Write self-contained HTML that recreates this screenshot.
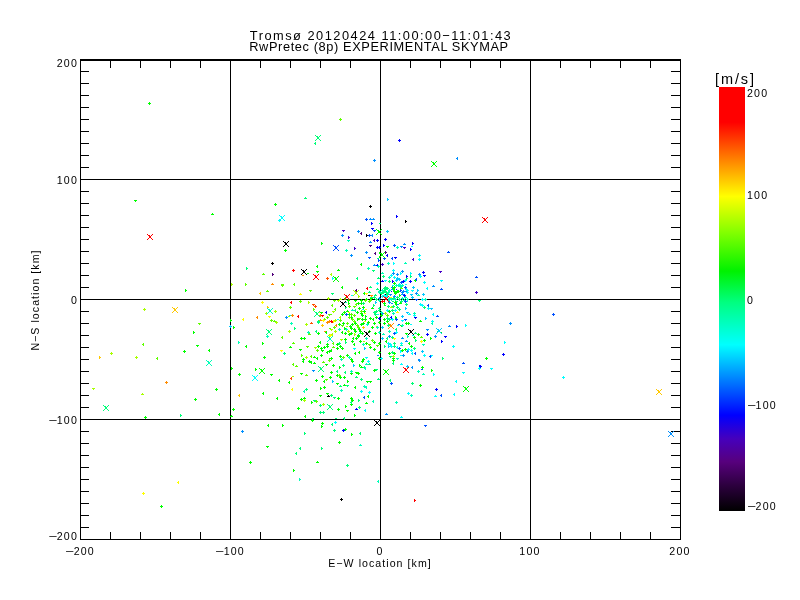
<!DOCTYPE html>
<html lang="en"><head><meta charset="utf-8"><title>Tromsø skymap</title>
<style>
html,body{margin:0;padding:0;background:#fff;}
body{width:800px;height:600px;position:relative;overflow:hidden;font-family:"Liberation Sans",sans-serif;color:#000;}
svg{position:absolute;left:0;top:0;}
.t{position:absolute;white-space:nowrap;line-height:1;filter:grayscale(1);font-size:10.6px;letter-spacing:1.2px;}
.m{display:inline-block;letter-spacing:0;width:8.6px;transform:scaleX(1.42);transform-origin:0 50%;}
.c{transform:translateX(-50%);}
.r{transform:translateX(-100%);}
.ttl{font-size:12.8px;letter-spacing:1.5px;}
.ax{letter-spacing:1.05px;}
#cb{position:absolute;left:719px;top:87px;width:26px;height:424px;
background:linear-gradient(to bottom,#ff0000 0%,#ff0000 8.3%,#ff8000 17%,#ffff00 25.8%,#80ff00 34.5%,#00f200 43.4%,#00ff80 50.8%,#00ffff 60.8%,#0080ff 69%,#0000ff 77.4%,#4600bc 83%,#57007d 88.4%,#2c003e 94%,#000000 100%);}
</style></head><body>
<svg width="800" height="600" viewBox="0 0 800 600" shape-rendering="crispEdges">
<path fill="#000" d="M80 59h601v2h-601zM80 539h601v1h-601zM80 59h1v481h-1zM680 59h1v481h-1zM230 59h1v481h-1zM380 59h1v481h-1zM530 59h1v481h-1zM80 179h601v1h-601zM80 299h601v1h-601zM80 419h601v1h-601zM110 59h1v9h-1zM110 532h1v8h-1zM140 59h1v9h-1zM140 532h1v8h-1zM170 59h1v9h-1zM170 532h1v8h-1zM200 59h1v9h-1zM200 532h1v8h-1zM260 59h1v9h-1zM260 532h1v8h-1zM290 59h1v9h-1zM290 532h1v8h-1zM320 59h1v9h-1zM320 532h1v8h-1zM350 59h1v9h-1zM350 532h1v8h-1zM410 59h1v9h-1zM410 532h1v8h-1zM440 59h1v9h-1zM440 532h1v8h-1zM470 59h1v9h-1zM470 532h1v8h-1zM500 59h1v9h-1zM500 532h1v8h-1zM560 59h1v9h-1zM560 532h1v8h-1zM590 59h1v9h-1zM590 532h1v8h-1zM620 59h1v9h-1zM620 532h1v8h-1zM650 59h1v9h-1zM650 532h1v8h-1zM80 71h9v1h-9zM671 71h10v1h-10zM80 83h9v1h-9zM671 83h10v1h-10zM80 95h9v1h-9zM671 95h10v1h-10zM80 107h9v1h-9zM671 107h10v1h-10zM80 119h9v1h-9zM671 119h10v1h-10zM80 131h9v1h-9zM671 131h10v1h-10zM80 143h9v1h-9zM671 143h10v1h-10zM80 155h9v1h-9zM671 155h10v1h-10zM80 167h9v1h-9zM671 167h10v1h-10zM80 191h9v1h-9zM671 191h10v1h-10zM80 203h9v1h-9zM671 203h10v1h-10zM80 215h9v1h-9zM671 215h10v1h-10zM80 227h9v1h-9zM671 227h10v1h-10zM80 239h9v1h-9zM671 239h10v1h-10zM80 251h9v1h-9zM671 251h10v1h-10zM80 263h9v1h-9zM671 263h10v1h-10zM80 275h9v1h-9zM671 275h10v1h-10zM80 287h9v1h-9zM671 287h10v1h-10zM80 311h9v1h-9zM671 311h10v1h-10zM80 323h9v1h-9zM671 323h10v1h-10zM80 335h9v1h-9zM671 335h10v1h-10zM80 347h9v1h-9zM671 347h10v1h-10zM80 359h9v1h-9zM671 359h10v1h-10zM80 371h9v1h-9zM671 371h10v1h-10zM80 383h9v1h-9zM671 383h10v1h-10zM80 395h9v1h-9zM671 395h10v1h-10zM80 407h9v1h-9zM671 407h10v1h-10zM80 431h9v1h-9zM671 431h10v1h-10zM80 443h9v1h-9zM671 443h10v1h-10zM80 455h9v1h-9zM671 455h10v1h-10zM80 467h9v1h-9zM671 467h10v1h-10zM80 479h9v1h-9zM671 479h10v1h-10zM80 491h9v1h-9zM671 491h10v1h-10zM80 503h9v1h-9zM671 503h10v1h-10zM80 515h9v1h-9zM671 515h10v1h-10zM80 527h9v1h-9zM671 527h10v1h-10z"/>
<path fill="#00ff00" d="M148 103h3v1h-3zM149 102h1v3h-1zM134 200h3v1h-3zM135 201h1v1h-1zM274 204h3v1h-3zM275 203h1v3h-1zM212 213h1v1h-1zM211 214h3v1h-3zM185 289h1v3h-1zM186 290h1v1h-1zM193 331h1v3h-1zM194 332h1v1h-1zM196 345h3v1h-3zM197 346h1v1h-1zM183 351h3v1h-3zM184 350h1v3h-1zM208 350h1v1h-1zM209 349h1v3h-1zM230 319h1v3h-1zM231 320h1v1h-1zM233 326h1v3h-1zM234 327h1v1h-1zM262 342h1v3h-1zM263 343h1v1h-1zM245 346h1v1h-1zM246 345h1v3h-1zM263 357h3v1h-3zM264 356h1v3h-1zM485 358h3v1h-3zM486 357h1v3h-1zM215 389h3v1h-3zM216 388h1v3h-1zM194 399h3v1h-3zM195 398h1v3h-1zM144 417h3v1h-3zM145 416h1v3h-1zM218 414h1v1h-1zM219 413h1v3h-1zM231 367h1v3h-1zM232 368h1v1h-1zM238 374h3v1h-3zM239 373h1v3h-1zM255 368h1v3h-1zM256 369h1v1h-1zM270 374h3v1h-3zM271 375h1v1h-1zM278 380h1v1h-1zM279 379h1v3h-1zM262 393h1v1h-1zM263 392h1v3h-1zM276 398h1v1h-1zM277 397h1v3h-1zM232 409h3v1h-3zM233 408h1v3h-1zM231 415h1v1h-1zM230 416h3v1h-3zM267 425h1v1h-1zM268 424h1v3h-1zM266 446h3v1h-3zM267 447h1v1h-1zM249 462h3v1h-3zM250 461h1v3h-1zM160 506h3v1h-3zM161 505h1v3h-1zM282 424h1v3h-1zM283 425h1v1h-1zM311 420h3v1h-3zM312 419h1v3h-1zM321 423h3v1h-3zM322 422h1v3h-1zM321 425h1v3h-1zM322 426h1v1h-1zM344 429h3v1h-3zM345 428h1v3h-1zM351 433h1v3h-1zM352 434h1v1h-1zM338 442h3v1h-3zM339 441h1v3h-1zM317 461h1v1h-1zM316 462h3v1h-3zM293 469h1v3h-1zM294 470h1v1h-1zM284 250h3v1h-3zM285 249h1v3h-1zM321 242h1v3h-1zM322 243h1v1h-1zM307 273h2v1h-2zM316 266h1v1h-1zM317 265h1v3h-1zM316 271h3v1h-3zM317 272h1v1h-1zM338 269h1v1h-1zM337 270h3v1h-3zM360 264h1v1h-1zM361 263h1v3h-1zM379 253h2v1h-2zM379 256h2v1h-2zM386 246h3v1h-3zM387 247h1v1h-1zM414 280h3v1h-3zM415 279h1v3h-1zM393 283h3v1h-3zM394 282h1v3h-1zM320 312h3v1h-3zM321 313h1v1h-1zM341 287h1v1h-1zM342 286h1v3h-1zM363 293h1v1h-1zM364 292h1v3h-1zM344 298h1v1h-1zM345 297h1v3h-1zM347 300h3v1h-3zM348 299h1v3h-1zM348 302h1v3h-1zM349 303h1v1h-1zM354 300h3v1h-3zM355 301h1v1h-1zM357 303h3v1h-3zM358 302h1v3h-1zM360 300h3v1h-3zM361 299h1v3h-1zM360 303h3v1h-3zM361 302h1v3h-1zM365 299h3v1h-3zM366 298h1v3h-1zM370 298h3v1h-3zM371 297h1v3h-1zM372 307h1v1h-1zM371 308h3v1h-3zM358 308h3v1h-3zM359 307h1v3h-1zM362 307h3v1h-3zM363 306h1v3h-1zM363 311h3v1h-3zM364 310h1v3h-1zM356 312h3v1h-3zM357 311h1v3h-1zM347 310h1v1h-1zM346 311h3v1h-3zM343 312h3v1h-3zM344 311h1v3h-1zM341 314h3v1h-3zM342 313h1v3h-1zM348 314h3v1h-3zM349 313h1v3h-1zM350 317h3v1h-3zM351 316h1v3h-1zM360 313h3v1h-3zM361 312h1v3h-1zM361 315h3v1h-3zM362 314h1v3h-1zM365 315h1v3h-1zM366 316h1v1h-1zM361 319h3v1h-3zM362 318h1v3h-1zM364 319h3v1h-3zM365 318h1v3h-1zM357 318h1v3h-1zM358 319h1v1h-1zM369 318h3v1h-3zM370 317h1v3h-1zM372 319h1v1h-1zM373 318h1v3h-1zM375 317h3v1h-3zM376 316h1v3h-1zM388 311h3v1h-3zM389 310h1v3h-1zM420 320h1v1h-1zM419 321h3v1h-3zM380 315h3v1h-3zM381 314h1v3h-1zM383 319h3v1h-3zM384 318h1v3h-1zM395 316h1v3h-1zM396 317h1v1h-1zM386 321h3v1h-3zM387 320h1v3h-1zM317 333h3v1h-3zM318 332h1v3h-1zM325 332h1v1h-1zM326 331h1v3h-1zM300 338h3v1h-3zM301 337h1v3h-1zM303 338h3v1h-3zM304 337h1v3h-1zM319 342h1v1h-1zM320 341h1v3h-1zM326 344h3v1h-3zM327 343h1v3h-1zM326 346h3v1h-3zM327 345h1v3h-1zM290 346h1v1h-1zM289 347h3v1h-3zM317 346h3v1h-3zM318 345h1v3h-1zM320 348h3v1h-3zM321 347h1v3h-1zM323 347h3v1h-3zM324 346h1v3h-1zM321 350h3v1h-3zM322 351h1v1h-1zM299 349h3v1h-3zM300 350h1v1h-1zM314 356h1v1h-1zM313 357h3v1h-3zM316 358h1v1h-1zM317 357h1v3h-1zM320 355h3v1h-3zM321 354h1v3h-1zM326 352h1v1h-1zM327 351h1v3h-1zM328 351h3v1h-3zM329 350h1v3h-1zM302 359h3v1h-3zM303 358h1v3h-1zM329 358h2v1h-2zM338 324h3v1h-3zM339 323h1v3h-1zM342 323h3v1h-3zM343 322h1v3h-1zM349 326h3v1h-3zM350 325h1v3h-1zM351 324h3v1h-3zM352 323h1v3h-1zM354 323h3v1h-3zM355 322h1v3h-1zM360 324h3v1h-3zM361 323h1v3h-1zM362 323h3v1h-3zM363 322h1v3h-1zM367 322h3v1h-3zM368 321h1v3h-1zM371 327h3v1h-3zM372 326h1v3h-1zM373 323h3v1h-3zM374 322h1v3h-1zM378 322h3v1h-3zM379 321h1v3h-1zM344 327h1v3h-1zM345 328h1v1h-1zM350 328h3v1h-3zM351 327h1v3h-1zM353 329h3v1h-3zM354 328h1v3h-1zM354 331h3v1h-3zM355 330h1v3h-1zM358 329h3v1h-3zM359 328h1v3h-1zM359 331h3v1h-3zM360 330h1v3h-1zM341 332h1v1h-1zM342 331h1v3h-1zM344 333h3v1h-3zM345 332h1v3h-1zM348 334h3v1h-3zM349 333h1v3h-1zM350 333h3v1h-3zM351 332h1v3h-1zM357 335h3v1h-3zM358 334h1v3h-1zM361 333h3v1h-3zM362 332h1v3h-1zM368 331h3v1h-3zM369 330h1v3h-1zM374 333h3v1h-3zM375 332h1v3h-1zM344 339h3v1h-3zM345 338h1v3h-1zM352 338h1v1h-1zM353 337h1v3h-1zM351 341h3v1h-3zM352 340h1v3h-1zM355 338h3v1h-3zM356 337h1v3h-1zM357 336h3v1h-3zM358 335h1v3h-1zM359 341h3v1h-3zM360 340h1v3h-1zM373 342h3v1h-3zM374 341h1v3h-1zM378 343h3v1h-3zM379 342h1v3h-1zM336 344h3v1h-3zM337 343h1v3h-1zM339 346h3v1h-3zM340 345h1v3h-1zM336 348h3v1h-3zM337 347h1v3h-1zM341 348h3v1h-3zM342 347h1v3h-1zM330 350h1v1h-1zM331 349h1v3h-1zM353 344h1v1h-1zM354 343h1v3h-1zM365 343h3v1h-3zM366 342h1v3h-1zM369 347h3v1h-3zM370 346h1v3h-1zM373 349h3v1h-3zM374 348h1v3h-1zM354 353h1v1h-1zM355 352h1v3h-1zM358 352h1v1h-1zM359 351h1v3h-1zM378 352h3v1h-3zM379 351h1v3h-1zM339 356h3v1h-3zM340 355h1v3h-1zM346 355h3v1h-3zM347 354h1v3h-1zM350 359h3v1h-3zM351 358h1v3h-1zM330 358h3v1h-3zM331 357h1v3h-1zM362 359h3v1h-3zM363 358h1v3h-1zM378 358h3v1h-3zM379 357h1v3h-1zM383 323h3v1h-3zM384 322h1v3h-1zM400 325h3v1h-3zM401 326h1v1h-1zM405 323h3v1h-3zM406 322h1v3h-1zM407 323h3v1h-3zM408 322h1v3h-1zM405 333h3v1h-3zM406 334h1v1h-1zM417 334h3v1h-3zM418 333h1v3h-1zM413 337h3v1h-3zM414 336h1v3h-1zM423 340h3v1h-3zM424 339h1v3h-1zM430 337h1v3h-1zM431 338h1v1h-1zM408 343h1v1h-1zM409 342h1v3h-1zM385 341h1v1h-1zM386 340h1v3h-1zM410 346h3v1h-3zM411 345h1v3h-1zM401 350h3v1h-3zM402 349h1v3h-1zM404 349h3v1h-3zM405 348h1v3h-1zM388 353h3v1h-3zM389 352h1v3h-1zM393 353h3v1h-3zM394 352h1v3h-1zM392 358h3v1h-3zM393 357h1v3h-1zM440 332h2v1h-2zM302 361h1v1h-1zM303 360h1v3h-1zM308 361h3v1h-3zM309 360h1v3h-1zM310 362h1v1h-1zM311 361h1v3h-1zM314 362h1v1h-1zM313 363h3v1h-3zM325 364h3v1h-3zM326 365h1v1h-1zM332 365h3v1h-3zM333 364h1v3h-1zM339 366h1v3h-1zM340 367h1v1h-1zM351 361h3v1h-3zM352 360h1v3h-1zM359 364h1v3h-1zM360 365h1v1h-1zM361 366h1v1h-1zM360 367h3v1h-3zM361 361h3v1h-3zM362 360h1v3h-1zM373 370h3v1h-3zM374 369h1v3h-1zM300 373h3v1h-3zM301 374h1v1h-1zM288 382h1v1h-1zM289 381h1v3h-1zM330 372h3v1h-3zM331 371h1v3h-1zM321 376h3v1h-3zM322 375h1v3h-1zM315 380h3v1h-3zM316 379h1v3h-1zM329 377h3v1h-3zM330 376h1v3h-1zM323 381h1v1h-1zM324 380h1v3h-1zM336 383h3v1h-3zM337 384h1v1h-1zM336 375h3v1h-3zM337 374h1v3h-1zM339 377h3v1h-3zM340 376h1v3h-1zM343 377h3v1h-3zM344 376h1v3h-1zM347 380h1v3h-1zM348 381h1v1h-1zM350 373h3v1h-3zM351 372h1v3h-1zM355 372h3v1h-3zM356 373h1v1h-1zM357 373h3v1h-3zM358 372h1v3h-1zM366 381h3v1h-3zM367 382h1v1h-1zM369 381h3v1h-3zM370 382h1v1h-1zM344 384h1v1h-1zM343 385h3v1h-3zM354 387h1v1h-1zM355 386h1v3h-1zM320 387h1v3h-1zM321 388h1v1h-1zM323 387h3v1h-3zM324 386h1v3h-1zM326 393h3v1h-3zM327 394h1v1h-1zM319 395h3v1h-3zM320 396h1v1h-1zM337 398h3v1h-3zM338 397h1v3h-1zM350 398h3v1h-3zM351 397h1v3h-1zM351 400h3v1h-3zM352 399h1v3h-1zM367 396h1v1h-1zM368 395h1v3h-1zM366 402h1v1h-1zM365 403h3v1h-3zM300 399h3v1h-3zM301 398h1v3h-1zM303 398h3v1h-3zM304 397h1v3h-1zM311 401h1v3h-1zM312 402h1v1h-1zM297 408h3v1h-3zM298 407h1v3h-1zM337 409h3v1h-3zM338 408h1v3h-1zM345 405h1v3h-1zM346 406h1v1h-1zM346 410h3v1h-3zM347 411h1v1h-1zM350 404h3v1h-3zM351 403h1v3h-1zM354 414h1v3h-1zM355 415h1v1h-1zM304 416h1v1h-1zM305 415h1v3h-1zM392 360h3v1h-3zM393 359h1v3h-1zM421 367h3v1h-3zM422 366h1v3h-1zM431 369h1v3h-1zM432 370h1v1h-1zM419 385h3v1h-3zM420 384h1v3h-1zM383 303h3v1h-3zM384 302h1v3h-1zM384 305h2v1h-2zM391 287h3v1h-3zM392 286h1v3h-1zM393 287h3v1h-3zM394 286h1v3h-1zM392 289h3v1h-3zM393 288h1v3h-1zM393 291h3v1h-3zM394 290h1v3h-1zM395 292h3v1h-3zM396 291h1v3h-1zM397 291h3v1h-3zM398 290h1v3h-1zM394 293h3v1h-3zM395 292h1v3h-1zM397 290h2v1h-2zM399 294h1v3h-1zM400 295h1v1h-1zM394 302h3v1h-3zM395 301h1v3h-1zM395 304h3v1h-3zM396 303h1v3h-1zM400 302h1v1h-1zM399 303h3v1h-3z"/>
<path fill="#60ff00" d="M339 119h3v1h-3zM340 118h1v3h-1zM198 323h3v1h-3zM199 324h1v1h-1zM142 344h1v1h-1zM143 343h1v3h-1zM156 358h1v1h-1zM157 357h1v3h-1zM263 273h1v1h-1zM262 274h3v1h-3zM245 283h1v3h-1zM246 284h1v1h-1zM267 290h1v1h-1zM266 291h3v1h-3zM270 320h3v1h-3zM271 319h1v3h-1zM274 320h1v1h-1zM273 321h3v1h-3zM281 284h3v1h-3zM282 285h1v1h-1zM293 284h1v1h-1zM294 283h1v3h-1zM281 285h3v1h-3zM282 286h1v1h-1zM309 290h3v1h-3zM310 291h1v1h-1zM299 301h3v1h-3zM300 300h1v3h-1zM289 307h3v1h-3zM290 306h1v3h-1zM313 308h1v3h-1zM314 309h1v1h-1zM328 314h3v1h-3zM329 315h1v1h-1zM326 317h3v1h-3zM327 316h1v3h-1zM323 319h3v1h-3zM324 318h1v3h-1zM333 300h3v1h-3zM334 301h1v1h-1zM331 305h1v1h-1zM332 304h1v3h-1zM334 309h1v1h-1zM335 308h1v3h-1zM348 306h3v1h-3zM349 305h1v3h-1zM353 306h3v1h-3zM354 307h1v1h-1zM355 304h1v1h-1zM356 303h1v3h-1zM364 300h3v1h-3zM365 299h1v3h-1zM368 301h3v1h-3zM369 300h1v3h-1zM369 300h3v1h-3zM370 299h1v3h-1zM360 311h3v1h-3zM361 310h1v3h-1zM350 314h3v1h-3zM351 313h1v3h-1zM353 315h3v1h-3zM354 314h1v3h-1zM348 317h3v1h-3zM349 316h1v3h-1zM358 318h3v1h-3zM359 319h1v1h-1zM351 319h3v1h-3zM352 318h1v3h-1zM353 321h3v1h-3zM354 320h1v3h-1zM339 320h3v1h-3zM340 319h1v3h-1zM330 314h2v1h-2zM386 315h3v1h-3zM387 314h1v3h-1zM309 333h1v1h-1zM308 334h3v1h-3zM329 328h2v1h-2zM281 337h1v1h-1zM282 336h1v3h-1zM293 342h1v1h-1zM292 343h3v1h-3zM306 346h3v1h-3zM307 347h1v1h-1zM316 350h3v1h-3zM317 349h1v3h-1zM301 354h1v3h-1zM302 355h1v1h-1zM310 356h1v1h-1zM311 355h1v3h-1zM341 325h3v1h-3zM342 326h1v1h-1zM346 323h3v1h-3zM347 322h1v3h-1zM356 325h3v1h-3zM357 324h1v3h-1zM357 327h3v1h-3zM358 326h1v3h-1zM333 327h3v1h-3zM334 326h1v3h-1zM371 340h3v1h-3zM372 339h1v3h-1zM332 343h1v1h-1zM333 342h1v3h-1zM333 346h1v1h-1zM332 347h3v1h-3zM368 344h3v1h-3zM369 345h1v1h-1zM376 345h3v1h-3zM377 346h1v1h-1zM342 357h3v1h-3zM343 356h1v3h-1zM421 336h1v1h-1zM420 337h3v1h-3zM292 364h1v1h-1zM293 363h1v3h-1zM296 365h1v1h-1zM295 366h3v1h-3zM323 361h1v1h-1zM322 362h3v1h-3zM328 360h3v1h-3zM329 359h1v3h-1zM306 374h1v1h-1zM305 375h3v1h-3zM325 379h3v1h-3zM326 380h1v1h-1zM338 375h3v1h-3zM339 374h1v3h-1zM315 401h3v1h-3zM316 400h1v3h-1zM401 287h1v1h-1zM400 288h3v1h-3z"/>
<path fill="#00ff78" d="M314 143h1v1h-1zM315 142h1v3h-1zM305 197h1v1h-1zM304 198h3v1h-3zM246 267h1v3h-1zM247 268h1v1h-1zM180 414h1v3h-1zM181 415h1v1h-1zM331 424h1v1h-1zM332 423h1v3h-1zM304 432h1v3h-1zM305 433h1v1h-1zM333 430h3v1h-3zM334 429h1v3h-1zM359 433h1v1h-1zM360 432h1v3h-1zM299 448h1v1h-1zM300 447h1v3h-1zM321 447h1v3h-1zM322 448h1v1h-1zM295 453h1v1h-1zM296 452h1v3h-1zM346 465h3v1h-3zM347 464h1v3h-1zM356 278h1v1h-1zM357 277h1v3h-1zM379 223h2v1h-2zM377 258h2v1h-2zM372 270h3v1h-3zM373 271h1v1h-1zM378 277h1v1h-1zM377 278h3v1h-3zM382 276h3v1h-3zM383 275h1v3h-1zM410 275h1v3h-1zM411 276h1v1h-1zM406 277h1v3h-1zM407 278h1v1h-1zM388 281h3v1h-3zM389 280h1v3h-1zM317 321h3v1h-3zM318 320h1v3h-1zM331 293h3v1h-3zM332 294h1v1h-1zM370 286h1v1h-1zM369 287h3v1h-3zM369 291h1v1h-1zM368 292h3v1h-3zM377 288h1v1h-1zM376 289h3v1h-3zM375 294h1v1h-1zM374 295h3v1h-3zM371 296h1v1h-1zM370 297h3v1h-3zM373 297h3v1h-3zM374 296h1v3h-1zM345 306h1v3h-1zM346 307h1v1h-1zM362 303h3v1h-3zM363 302h1v3h-1zM375 299h3v1h-3zM376 298h1v3h-1zM373 304h1v3h-1zM374 305h1v1h-1zM354 310h1v1h-1zM355 309h1v3h-1zM373 312h3v1h-3zM374 311h1v3h-1zM375 311h3v1h-3zM376 310h1v3h-1zM374 314h3v1h-3zM375 313h1v3h-1zM378 310h3v1h-3zM379 309h1v3h-1zM378 308h3v1h-3zM379 307h1v3h-1zM387 306h3v1h-3zM388 305h1v3h-1zM392 306h3v1h-3zM393 305h1v3h-1zM396 307h3v1h-3zM397 306h1v3h-1zM398 309h3v1h-3zM399 308h1v3h-1zM391 310h3v1h-3zM392 309h1v3h-1zM423 307h3v1h-3zM424 306h1v3h-1zM386 318h3v1h-3zM387 317h1v3h-1zM388 319h3v1h-3zM389 318h1v3h-1zM478 300h3v1h-3zM479 301h1v1h-1zM317 322h3v1h-3zM318 323h1v1h-1zM294 327h1v3h-1zM295 328h1v1h-1zM315 331h1v1h-1zM316 330h1v3h-1zM283 353h3v1h-3zM284 352h1v3h-1zM345 341h1v3h-1zM346 342h1v1h-1zM338 343h3v1h-3zM339 342h1v3h-1zM387 325h3v1h-3zM388 324h1v3h-1zM415 332h1v1h-1zM414 333h3v1h-3zM395 329h1v1h-1zM396 328h1v3h-1zM391 337h3v1h-3zM392 336h1v3h-1zM386 338h1v1h-1zM387 337h1v3h-1zM415 339h1v3h-1zM416 340h1v1h-1zM393 343h3v1h-3zM394 342h1v3h-1zM384 345h1v3h-1zM385 346h1v1h-1zM393 346h3v1h-3zM394 345h1v3h-1zM413 348h3v1h-3zM414 347h1v3h-1zM391 352h3v1h-3zM392 351h1v3h-1zM389 356h3v1h-3zM390 357h1v1h-1zM437 331h2v1h-2zM442 357h1v3h-1zM443 358h1v1h-1zM342 365h3v1h-3zM343 364h1v3h-1zM363 367h1v1h-1zM364 366h1v3h-1zM369 363h1v1h-1zM368 364h3v1h-3zM375 369h3v1h-3zM376 370h1v1h-1zM336 371h1v1h-1zM337 370h1v3h-1zM344 372h1v1h-1zM345 371h1v3h-1zM356 376h1v1h-1zM355 377h3v1h-3zM360 379h3v1h-3zM361 378h1v3h-1zM378 378h1v1h-1zM377 379h3v1h-3zM340 385h1v1h-1zM339 386h3v1h-3zM346 385h3v1h-3zM347 386h1v1h-1zM305 389h3v1h-3zM306 388h1v3h-1zM330 395h3v1h-3zM331 394h1v3h-1zM333 397h3v1h-3zM334 398h1v1h-1zM358 399h1v3h-1zM359 400h1v1h-1zM313 400h3v1h-3zM314 401h1v1h-1zM319 405h3v1h-3zM320 404h1v3h-1zM350 402h1v1h-1zM351 401h1v3h-1zM358 407h3v1h-3zM359 406h1v3h-1zM319 412h3v1h-3zM320 411h1v3h-1zM322 412h3v1h-3zM323 411h1v3h-1zM312 418h2v1h-2zM335 418h2v1h-2zM343 418h1v1h-1zM344 417h1v3h-1zM392 363h1v1h-1zM393 362h1v3h-1zM389 380h1v1h-1zM390 379h1v3h-1zM411 383h3v1h-3zM412 382h1v3h-1zM384 287h3v1h-3zM385 286h1v3h-1zM386 288h3v1h-3zM387 287h1v3h-1zM384 289h3v1h-3zM385 288h1v3h-1zM383 288h2v1h-2zM382 292h3v1h-3zM383 291h1v3h-1zM380 293h3v1h-3zM381 292h1v3h-1zM383 291h3v1h-3zM384 290h1v3h-1zM385 292h3v1h-3zM386 291h1v3h-1zM386 294h3v1h-3zM387 293h1v3h-1zM392 298h3v1h-3zM393 297h1v3h-1zM396 297h3v1h-3zM397 296h1v3h-1zM398 299h3v1h-3zM399 298h1v3h-1zM396 301h2v1h-2zM405 304h3v1h-3zM406 303h1v3h-1zM400 301h3v1h-3zM401 300h1v3h-1zM392 301h2v1h-2z"/>
<path fill="#0090ff" d="M373 160h3v1h-3zM374 159h1v3h-1zM456 158h1v1h-1zM457 157h1v3h-1zM509 323h3v1h-3zM510 322h1v3h-1zM241 431h3v1h-3zM242 430h1v3h-1zM341 235h3v1h-3zM342 234h1v3h-1zM350 255h3v1h-3zM351 254h1v3h-1zM357 231h3v1h-3zM358 230h1v3h-1zM370 218h1v1h-1zM369 219h3v1h-3zM373 218h1v1h-1zM372 219h3v1h-3zM371 235h1v1h-1zM372 234h1v3h-1zM370 241h1v1h-1zM369 242h3v1h-3zM365 252h3v1h-3zM366 251h1v3h-1zM374 264h1v1h-1zM373 265h3v1h-3zM400 246h3v1h-3zM401 247h1v1h-1zM404 243h1v1h-1zM403 244h3v1h-3zM401 271h3v1h-3zM402 270h1v3h-1zM392 273h3v1h-3zM393 272h1v3h-1zM396 274h3v1h-3zM397 273h1v3h-1zM418 274h3v1h-3zM419 273h1v3h-1zM285 317h3v1h-3zM286 316h1v3h-1zM378 298h3v1h-3zM379 297h1v3h-1zM415 293h3v1h-3zM416 292h1v3h-1zM381 313h3v1h-3zM382 312h1v3h-1zM433 285h1v1h-1zM432 286h3v1h-3zM377 355h2v1h-2zM426 329h3v1h-3zM427 330h1v1h-1zM388 336h3v1h-3zM389 335h1v3h-1zM402 337h1v1h-1zM401 338h3v1h-3zM406 340h1v1h-1zM405 341h3v1h-3zM406 351h3v1h-3zM407 350h1v3h-1zM402 355h3v1h-3zM403 354h1v3h-1zM418 359h2v1h-2zM449 325h1v1h-1zM448 326h3v1h-3zM434 336h3v1h-3zM435 335h1v3h-1zM312 370h3v1h-3zM313 371h1v1h-1zM418 360h3v1h-3zM419 359h1v3h-1zM411 367h1v1h-1zM412 366h1v3h-1zM386 413h1v1h-1zM385 414h3v1h-3zM388 302h3v1h-3zM389 301h1v3h-1zM391 303h2v1h-2zM391 287h2v1h-2zM391 289h2v1h-2zM389 294h3v1h-3zM390 295h1v1h-1zM402 291h3v1h-3zM403 290h1v3h-1zM405 291h2v1h-2zM401 292h2v1h-2zM402 293h1v1h-1zM401 294h3v1h-3zM393 296h3v1h-3zM394 295h1v3h-1zM397 304h2v1h-2z"/>
<path fill="#0000ff" d="M398 140h3v1h-3zM399 139h1v3h-1zM502 354h3v1h-3zM503 353h1v3h-1zM479 366h3v1h-3zM480 367h1v1h-1zM342 430h3v1h-3zM343 429h1v3h-1zM371 222h1v3h-1zM372 223h1v1h-1zM371 228h3v1h-3zM372 229h1v1h-1zM376 240h3v1h-3zM377 239h1v3h-1zM376 247h3v1h-3zM377 246h1v3h-1zM378 247h3v1h-3zM379 246h1v3h-1zM377 264h1v1h-1zM376 265h3v1h-3zM396 215h1v3h-1zM397 216h1v1h-1zM384 239h3v1h-3zM385 238h1v3h-1zM383 244h1v3h-1zM384 245h1v1h-1zM412 242h1v3h-1zM413 243h1v1h-1zM410 248h1v3h-1zM411 249h1v1h-1zM386 255h1v1h-1zM387 254h1v3h-1zM394 257h3v1h-3zM395 258h1v1h-1zM406 275h1v3h-1zM407 276h1v1h-1zM422 272h3v1h-3zM423 271h1v3h-1zM423 275h3v1h-3zM424 276h1v1h-1zM382 280h1v1h-1zM381 281h3v1h-3zM392 280h1v3h-1zM393 281h1v1h-1zM402 281h3v1h-3zM403 280h1v3h-1zM409 281h3v1h-3zM410 280h1v3h-1zM325 312h1v1h-1zM326 311h1v3h-1zM378 318h3v1h-3zM379 317h1v3h-1zM414 317h3v1h-3zM415 318h1v1h-1zM390 317h1v1h-1zM391 316h1v3h-1zM426 334h3v1h-3zM427 333h1v3h-1zM456 325h1v3h-1zM457 326h1v1h-1zM444 336h3v1h-3zM445 337h1v1h-1zM441 340h1v3h-1zM442 341h1v1h-1zM356 408h1v1h-1zM355 409h3v1h-3zM479 365h2v1h-2zM435 389h3v1h-3zM436 388h1v3h-1zM389 291h1v1h-1zM391 291h1v1h-1zM396 289h1v1h-1zM403 295h3v1h-3zM404 294h1v3h-1z"/>
<path fill="#000000" d="M369 206h3v1h-3zM370 205h1v3h-1zM271 263h3v1h-3zM272 262h1v3h-1zM340 499h3v1h-3zM341 498h1v3h-1zM366 234h1v3h-1zM367 235h1v1h-1zM405 220h1v3h-1zM406 221h1v1h-1zM368 295h2v1h-2zM328 395h1v1h-1zM327 396h3v1h-3zM385 294h1v1h-1z"/>
<path fill="#00c8ff" d="M387 198h1v3h-1zM388 199h1v1h-1zM229 326h3v1h-3zM230 325h1v3h-1zM386 231h3v1h-3zM387 230h1v3h-1zM396 278h3v1h-3zM397 277h1v3h-1zM398 279h3v1h-3zM399 278h1v3h-1zM395 280h3v1h-3zM396 279h1v3h-1zM375 301h1v3h-1zM376 302h1v1h-1zM412 287h3v1h-3zM413 286h1v3h-1zM417 289h1v3h-1zM418 290h1v1h-1zM410 294h3v1h-3zM411 295h1v1h-1zM422 294h3v1h-3zM423 293h1v3h-1zM411 297h3v1h-3zM412 296h1v3h-1zM405 307h1v3h-1zM406 308h1v1h-1zM406 312h3v1h-3zM407 313h1v1h-1zM425 317h1v3h-1zM426 318h1v1h-1zM401 316h3v1h-3zM402 315h1v3h-1zM430 308h3v1h-3zM431 309h1v1h-1zM364 347h1v3h-1zM365 348h1v1h-1zM381 327h3v1h-3zM382 326h1v3h-1zM381 338h3v1h-3zM382 337h1v3h-1zM388 345h1v3h-1zM389 346h1v1h-1zM421 351h3v1h-3zM422 350h1v3h-1zM353 364h1v3h-1zM354 365h1v1h-1zM332 380h1v3h-1zM333 381h1v1h-1zM406 366h3v1h-3zM407 365h1v3h-1z"/>
<path fill="#a8ff00" d="M143 309h3v1h-3zM144 308h1v3h-1zM110 353h3v1h-3zM111 352h1v3h-1zM135 357h3v1h-3zM136 356h1v3h-1zM231 283h1v3h-1zM232 284h1v1h-1zM274 311h3v1h-3zM275 310h1v3h-1zM265 313h3v1h-3zM266 312h1v3h-1zM275 322h3v1h-3zM276 321h1v3h-1zM92 388h3v1h-3zM93 389h1v1h-1zM142 393h1v1h-1zM141 394h3v1h-3zM330 274h1v1h-1zM331 273h1v3h-1zM327 298h3v1h-3zM328 297h1v3h-1zM308 301h1v3h-1zM309 302h1v1h-1zM288 316h2v1h-2zM358 295h1v3h-1zM359 296h1v1h-1zM340 298h1v1h-1zM339 299h3v1h-3zM337 300h3v1h-3zM338 301h1v1h-1zM332 311h3v1h-3zM333 312h1v1h-1zM339 317h1v1h-1zM340 316h1v3h-1zM334 320h3v1h-3zM335 319h1v3h-1zM391 306h1v1h-1zM390 307h3v1h-3zM427 308h2v1h-2zM384 313h3v1h-3zM385 312h1v3h-1zM305 324h3v1h-3zM306 323h1v3h-1zM288 331h3v1h-3zM289 330h1v3h-1zM328 335h3v1h-3zM329 334h1v3h-1zM314 347h3v1h-3zM315 348h1v1h-1zM305 357h3v1h-3zM306 356h1v3h-1zM346 326h2v1h-2zM330 329h3v1h-3zM331 330h1v1h-1zM334 331h3v1h-3zM335 330h1v3h-1zM347 331h3v1h-3zM348 330h1v3h-1zM354 333h1v3h-1zM355 334h1v1h-1zM331 334h1v1h-1zM332 333h1v3h-1zM340 339h3v1h-3zM341 340h1v1h-1zM363 341h2v1h-2zM392 356h3v1h-3zM393 355h1v3h-1zM292 376h2v1h-2zM303 400h3v1h-3zM304 399h1v3h-1zM322 404h3v1h-3zM323 403h1v3h-1z"/>
<path fill="#ffc800" d="M99 356h1v3h-1zM100 357h1v1h-1zM259 293h1v1h-1zM260 292h1v3h-1zM267 306h1v3h-1zM268 307h1v1h-1zM238 395h1v1h-1zM239 394h1v3h-1zM321 325h3v1h-3zM322 324h1v3h-1zM362 327h3v1h-3zM363 326h1v3h-1zM376 326h2v1h-2z"/>
<path fill="#00ffff" d="M278 220h3v1h-3zM279 219h1v3h-1zM504 341h1v3h-1zM505 342h1v1h-1zM490 368h3v1h-3zM491 369h1v1h-1zM562 377h3v1h-3zM563 376h1v3h-1zM334 422h3v1h-3zM335 421h1v3h-1zM332 277h1v3h-1zM333 278h1v1h-1zM376 283h3v1h-3zM377 282h1v3h-1zM411 246h2v1h-2zM418 255h3v1h-3zM419 254h1v3h-1zM418 259h3v1h-3zM419 258h1v3h-1zM393 262h1v3h-1zM394 263h1v1h-1zM392 270h3v1h-3zM393 269h1v3h-1zM400 272h1v3h-1zM401 273h1v1h-1zM390 275h3v1h-3zM391 274h1v3h-1zM393 277h3v1h-3zM394 276h1v3h-1zM410 272h1v3h-1zM411 273h1v1h-1zM419 276h3v1h-3zM420 275h1v3h-1zM440 280h3v1h-3zM441 281h1v1h-1zM384 280h3v1h-3zM385 281h1v1h-1zM404 280h3v1h-3zM405 279h1v3h-1zM423 282h3v1h-3zM424 281h1v3h-1zM398 284h3v1h-3zM399 283h1v3h-1zM351 295h2v1h-2zM362 309h2v1h-2zM377 314h2v1h-2zM337 319h2v1h-2zM411 290h3v1h-3zM412 291h1v1h-1zM426 288h1v1h-1zM427 287h1v3h-1zM421 299h3v1h-3zM422 298h1v3h-1zM386 310h3v1h-3zM387 309h1v3h-1zM394 310h3v1h-3zM395 309h1v3h-1zM419 304h3v1h-3zM420 303h1v3h-1zM421 305h3v1h-3zM422 304h1v3h-1zM427 308h3v1h-3zM428 307h1v3h-1zM409 313h1v1h-1zM408 314h3v1h-3zM413 315h3v1h-3zM414 314h1v3h-1zM391 319h3v1h-3zM392 318h1v3h-1zM401 320h3v1h-3zM402 321h1v1h-1zM432 314h1v1h-1zM433 313h1v3h-1zM431 321h3v1h-3zM432 320h1v3h-1zM353 348h3v1h-3zM354 349h1v1h-1zM365 357h3v1h-3zM366 358h1v1h-1zM397 325h2v1h-2zM410 324h2v1h-2zM412 335h2v1h-2zM395 332h3v1h-3zM396 331h1v3h-1zM387 343h3v1h-3zM388 342h1v3h-1zM389 344h3v1h-3zM390 343h1v3h-1zM400 343h3v1h-3zM401 342h1v3h-1zM390 346h3v1h-3zM391 345h1v3h-1zM396 347h1v1h-1zM397 346h1v3h-1zM407 349h3v1h-3zM408 348h1v3h-1zM410 350h3v1h-3zM411 349h1v3h-1zM400 350h1v3h-1zM401 351h1v1h-1zM411 353h1v1h-1zM412 352h1v3h-1zM423 355h3v1h-3zM424 354h1v3h-1zM400 355h2v1h-2zM380 358h3v1h-3zM381 357h1v3h-1zM465 324h1v3h-1zM466 325h1v1h-1zM452 346h3v1h-3zM453 345h1v3h-1zM430 355h3v1h-3zM431 356h1v1h-1zM367 361h3v1h-3zM368 360h1v3h-1zM360 391h3v1h-3zM361 390h1v3h-1zM368 392h3v1h-3zM369 391h1v3h-1zM364 410h1v1h-1zM365 409h1v3h-1zM401 363h1v1h-1zM400 364h3v1h-3zM433 373h1v3h-1zM434 374h1v1h-1zM462 372h3v1h-3zM463 373h1v1h-1zM478 368h3v1h-3zM479 367h1v3h-1zM455 381h1v1h-1zM456 380h1v3h-1zM407 393h3v1h-3zM408 392h1v3h-1zM435 395h1v1h-1zM434 396h3v1h-3zM453 394h1v1h-1zM454 393h1v3h-1zM401 416h1v1h-1zM400 417h3v1h-3zM383 295h3v1h-3zM384 294h1v3h-1zM385 296h3v1h-3zM386 295h1v3h-1zM381 296h3v1h-3zM382 295h1v3h-1zM392 285h2v1h-2zM405 284h2v1h-2zM405 289h3v1h-3zM406 288h1v3h-1zM406 292h3v1h-3zM407 291h1v3h-1zM407 290h2v1h-2z"/>
<path fill="#50007a" d="M272 273h1v3h-1zM273 274h1v1h-1zM360 233h1v1h-1zM361 232h1v3h-1zM369 245h3v1h-3zM370 246h1v1h-1zM374 253h1v1h-1zM375 252h1v3h-1zM384 252h3v1h-3zM385 251h1v3h-1zM355 290h1v1h-1zM356 289h1v3h-1z"/>
<path fill="#ff8c00" d="M272 283h1v1h-1zM271 284h3v1h-3zM256 317h1v1h-1zM257 316h1v3h-1zM165 382h3v1h-3zM166 381h1v3h-1zM302 275h2v1h-2zM319 315h3v1h-3zM320 314h1v3h-1zM291 315h3v1h-3zM292 314h1v3h-1zM320 319h1v1h-1zM319 320h3v1h-3zM328 321h3v1h-3zM329 320h1v3h-1zM370 295h3v1h-3zM371 296h1v1h-1zM326 322h3v1h-3zM327 321h1v3h-1zM324 331h2v1h-2zM335 325h1v1h-1zM336 324h1v3h-1z"/>
<path fill="#ffff00" d="M261 302h3v1h-3zM262 301h1v3h-1zM268 316h3v1h-3zM269 317h1v1h-1zM242 319h1v1h-1zM243 318h1v3h-1zM177 482h1v1h-1zM178 481h1v3h-1zM142 493h3v1h-3zM143 492h1v3h-1zM300 293h1v1h-1zM299 294h3v1h-3zM318 312h2v1h-2zM322 320h3v1h-3zM323 319h1v3h-1zM365 293h3v1h-3zM366 294h1v1h-1zM365 309h2v1h-2zM348 312h2v1h-2zM364 313h2v1h-2zM364 321h2v1h-2zM332 321h3v1h-3zM333 320h1v3h-1zM397 311h1v1h-1zM396 312h3v1h-3zM280 350h3v1h-3zM281 351h1v1h-1zM329 335h3v1h-3zM330 334h1v3h-1zM393 338h3v1h-3zM394 339h1v1h-1zM420 341h3v1h-3zM421 340h1v3h-1zM291 389h1v1h-1zM292 388h1v3h-1zM390 297h2v1h-2z"/>
<path fill="#00ffb8" d="M266 336h3v1h-3zM267 335h1v3h-1zM238 341h1v3h-1zM239 342h1v1h-1zM360 444h1v1h-1zM359 445h3v1h-3zM299 478h1v3h-1zM300 479h1v1h-1zM377 481h1v1h-1zM378 480h1v3h-1zM347 240h3v1h-3zM348 241h1v1h-1zM345 250h3v1h-3zM346 249h1v3h-1zM377 266h3v1h-3zM378 265h1v3h-1zM367 268h3v1h-3zM368 267h1v3h-1zM396 247h3v1h-3zM397 246h1v3h-1zM387 263h3v1h-3zM388 262h1v3h-1zM405 262h1v1h-1zM404 263h3v1h-3zM382 272h1v1h-1zM381 273h3v1h-3zM388 277h3v1h-3zM389 276h1v3h-1zM289 315h2v1h-2zM378 291h3v1h-3zM379 290h1v3h-1zM345 302h2v1h-2zM378 300h3v1h-3zM379 299h1v3h-1zM378 292h3v1h-3zM379 291h1v3h-1zM352 309h1v1h-1zM351 310h3v1h-3zM418 294h1v1h-1zM417 295h3v1h-3zM424 299h3v1h-3zM425 298h1v3h-1zM392 313h3v1h-3zM393 312h1v3h-1zM413 313h3v1h-3zM414 312h1v3h-1zM380 312h3v1h-3zM381 311h1v3h-1zM290 323h3v1h-3zM291 322h1v3h-1zM307 332h3v1h-3zM308 331h1v3h-1zM366 324h3v1h-3zM367 323h1v3h-1zM376 327h3v1h-3zM377 326h1v3h-1zM338 329h3v1h-3zM339 328h1v3h-1zM345 329h3v1h-3zM346 328h1v3h-1zM359 333h2v1h-2zM378 332h3v1h-3zM379 331h1v3h-1zM365 338h3v1h-3zM366 337h1v3h-1zM362 344h3v1h-3zM363 343h1v3h-1zM348 357h3v1h-3zM349 356h1v3h-1zM340 359h3v1h-3zM341 358h1v3h-1zM401 325h3v1h-3zM402 324h1v3h-1zM388 331h3v1h-3zM389 330h1v3h-1zM383 333h1v1h-1zM382 334h3v1h-3zM407 335h1v3h-1zM408 336h1v1h-1zM422 344h3v1h-3zM423 345h1v1h-1zM401 344h1v1h-1zM400 345h3v1h-3zM396 358h3v1h-3zM397 359h1v1h-1zM431 323h1v1h-1zM432 322h1v3h-1zM364 368h1v1h-1zM365 367h1v3h-1zM366 363h1v1h-1zM365 364h3v1h-3zM350 371h3v1h-3zM351 370h1v3h-1zM340 390h3v1h-3zM341 389h1v3h-1zM363 386h3v1h-3zM364 385h1v3h-1zM365 387h1v1h-1zM366 386h1v3h-1zM303 391h1v1h-1zM304 390h1v3h-1zM372 401h1v1h-1zM373 400h1v3h-1zM417 371h3v1h-3zM418 370h1v3h-1zM423 373h1v1h-1zM422 374h3v1h-3zM410 395h3v1h-3zM411 394h1v3h-1zM395 402h3v1h-3zM396 401h1v3h-1zM381 290h3v1h-3zM382 289h1v3h-1zM388 298h3v1h-3zM389 297h1v3h-1zM390 299h3v1h-3zM391 298h1v3h-1zM387 300h3v1h-3zM388 299h1v3h-1zM397 285h3v1h-3zM398 284h1v3h-1zM399 286h3v1h-3zM400 285h1v3h-1zM395 285h3v1h-3zM396 284h1v3h-1zM401 285h3v1h-3zM402 284h1v3h-1zM388 290h3v1h-3zM389 289h1v3h-1zM387 292h3v1h-3zM388 291h1v3h-1zM401 298h3v1h-3zM402 297h1v3h-1zM404 297h3v1h-3zM405 296h1v3h-1zM406 299h3v1h-3zM407 298h1v3h-1zM403 300h3v1h-3zM404 299h1v3h-1zM406 301h2v1h-2zM394 299h3v1h-3zM395 298h1v3h-1z"/>
<path fill="#0050ff" d="M552 314h3v1h-3zM553 313h1v3h-1zM424 425h3v1h-3zM425 426h1v1h-1zM365 219h3v1h-3zM366 218h1v3h-1zM373 230h3v1h-3zM374 231h1v1h-1zM368 235h3v1h-3zM369 234h1v3h-1zM368 257h3v1h-3zM369 258h1v1h-1zM378 259h1v3h-1zM379 260h1v1h-1zM393 245h3v1h-3zM394 244h1v3h-1zM383 258h3v1h-3zM384 257h1v3h-1zM391 258h1v1h-1zM392 257h1v3h-1zM448 251h1v1h-1zM447 252h3v1h-3zM476 276h1v1h-1zM475 277h3v1h-3zM400 282h3v1h-3zM401 281h1v3h-1zM415 279h1v1h-1zM416 278h1v3h-1zM345 314h3v1h-3zM346 313h1v3h-1zM415 299h3v1h-3zM416 300h1v1h-1zM427 305h1v1h-1zM428 304h1v3h-1zM395 319h3v1h-3zM396 318h1v3h-1zM404 319h3v1h-3zM405 320h1v1h-1zM441 288h1v1h-1zM440 289h3v1h-3zM437 315h1v1h-1zM436 316h3v1h-3zM398 324h2v1h-2zM393 333h3v1h-3zM394 332h1v3h-1zM398 348h3v1h-3zM399 347h1v3h-1zM414 353h1v1h-1zM415 352h1v3h-1zM429 356h1v1h-1zM430 355h1v3h-1zM363 397h1v1h-1zM364 396h1v3h-1zM421 369h2v1h-2zM463 362h1v1h-1zM462 363h3v1h-3zM390 383h3v1h-3zM391 382h1v3h-1zM440 395h1v1h-1zM441 394h1v3h-1zM404 287h3v1h-3zM405 286h1v3h-1zM400 289h1v3h-1zM401 290h1v1h-1zM404 301h3v1h-3zM405 300h1v3h-1z"/>
<path fill="#ff0000" d="M414 499h1v3h-1zM415 500h1v1h-1zM292 270h3v1h-3zM293 269h1v3h-1zM290 302h1v1h-1zM291 301h1v3h-1zM321 315h3v1h-3zM322 316h1v1h-1zM297 316h1v1h-1zM298 315h1v3h-1zM366 288h1v1h-1zM367 287h1v3h-1zM330 321h3v1h-3zM331 320h1v3h-1zM331 322h2v1h-2zM381 301h3v1h-3zM382 300h1v3h-1zM383 301h2v1h-2z"/>
<path fill="#ff5000" d="M326 278h3v1h-3zM327 277h1v3h-1zM312 304h3v1h-3zM313 305h1v1h-1zM314 306h3v1h-3zM315 305h1v3h-1zM311 322h1v1h-1zM310 323h3v1h-3zM290 378h1v1h-1zM291 377h1v3h-1z"/>
<path fill="#4400c8" d="M342 230h3v1h-3zM343 231h1v1h-1zM348 236h1v3h-1zM349 237h1v1h-1zM354 247h1v3h-1zM355 248h1v1h-1zM373 240h1v1h-1zM374 239h1v3h-1zM403 247h3v1h-3zM404 248h1v1h-1zM412 259h1v1h-1zM413 258h1v3h-1zM381 264h3v1h-3zM382 263h1v3h-1zM439 271h3v1h-3zM440 272h1v1h-1zM475 292h3v1h-3zM476 291h1v3h-1z"/>
<path fill="#00ff78" d="M315 135h1v1h-1zM320 135h1v1h-1zM316 136h1v1h-1zM317 136h1v1h-1zM319 136h1v1h-1zM317 137h1v1h-1zM318 137h1v1h-1zM317 138h1v1h-1zM318 138h1v1h-1zM316 139h1v1h-1zM319 139h1v1h-1zM315 140h1v1h-1zM320 140h1v1h-1z"/>
<path fill="#00ff00" d="M431 161h1v1h-1zM436 161h1v1h-1zM432 162h1v1h-1zM433 162h1v1h-1zM435 162h1v1h-1zM433 163h1v1h-1zM434 163h1v1h-1zM433 164h1v1h-1zM434 164h1v1h-1zM432 165h1v1h-1zM435 165h1v1h-1zM431 166h1v1h-1zM436 166h1v1h-1z"/>
<path fill="#ff0000" d="M147 234h1v1h-1zM152 234h1v1h-1zM148 235h1v1h-1zM149 235h1v1h-1zM151 235h1v1h-1zM149 236h1v1h-1zM150 236h1v1h-1zM149 237h1v1h-1zM150 237h1v1h-1zM148 238h1v1h-1zM151 238h1v1h-1zM147 239h1v1h-1zM152 239h1v1h-1z"/>
<path fill="#ffc800" d="M172 307h1v1h-1zM177 307h1v1h-1zM173 308h1v1h-1zM174 308h1v1h-1zM176 308h1v1h-1zM174 309h1v1h-1zM175 309h1v1h-1zM174 310h1v1h-1zM175 310h1v1h-1zM173 311h1v1h-1zM176 311h1v1h-1zM172 312h1v1h-1zM177 312h1v1h-1z"/>
<path fill="#00ffb8" d="M267 308h1v1h-1zM272 308h1v1h-1zM268 309h1v1h-1zM269 309h1v1h-1zM271 309h1v1h-1zM269 310h1v1h-1zM270 310h1v1h-1zM269 311h1v1h-1zM270 311h1v1h-1zM268 312h1v1h-1zM271 312h1v1h-1zM267 313h1v1h-1zM272 313h1v1h-1z"/>
<path fill="#00ff78" d="M266 329h1v1h-1zM271 329h1v1h-1zM267 330h1v1h-1zM268 330h1v1h-1zM270 330h1v1h-1zM268 331h1v1h-1zM269 331h1v1h-1zM268 332h1v1h-1zM269 332h1v1h-1zM267 333h1v1h-1zM270 333h1v1h-1zM266 334h1v1h-1zM271 334h1v1h-1z"/>
<path fill="#ff0000" d="M482 217h1v1h-1zM487 217h1v1h-1zM483 218h1v1h-1zM484 218h1v1h-1zM486 218h1v1h-1zM484 219h1v1h-1zM485 219h1v1h-1zM484 220h1v1h-1zM485 220h1v1h-1zM483 221h1v1h-1zM486 221h1v1h-1zM482 222h1v1h-1zM487 222h1v1h-1z"/>
<path fill="#00ffb8" d="M206 360h1v1h-1zM211 360h1v1h-1zM207 361h1v1h-1zM208 361h1v1h-1zM210 361h1v1h-1zM208 362h1v1h-1zM209 362h1v1h-1zM208 363h1v1h-1zM209 363h1v1h-1zM207 364h1v1h-1zM210 364h1v1h-1zM206 365h1v1h-1zM211 365h1v1h-1z"/>
<path fill="#00ff78" d="M103 405h1v1h-1zM108 405h1v1h-1zM104 406h1v1h-1zM105 406h1v1h-1zM107 406h1v1h-1zM105 407h1v1h-1zM106 407h1v1h-1zM105 408h1v1h-1zM106 408h1v1h-1zM104 409h1v1h-1zM107 409h1v1h-1zM103 410h1v1h-1zM108 410h1v1h-1z"/>
<path fill="#00ff00" d="M259 368h1v1h-1zM264 368h1v1h-1zM260 369h1v1h-1zM261 369h1v1h-1zM263 369h1v1h-1zM261 370h1v1h-1zM262 370h1v1h-1zM261 371h1v1h-1zM262 371h1v1h-1zM260 372h1v1h-1zM263 372h1v1h-1zM259 373h1v1h-1zM264 373h1v1h-1z"/>
<path fill="#00ffff" d="M252 375h1v1h-1zM257 375h1v1h-1zM253 376h1v1h-1zM254 376h1v1h-1zM256 376h1v1h-1zM254 377h1v1h-1zM255 377h1v1h-1zM254 378h1v1h-1zM255 378h1v1h-1zM253 379h1v1h-1zM256 379h1v1h-1zM252 380h1v1h-1zM257 380h1v1h-1z"/>
<path fill="#ffc800" d="M656 389h1v1h-1zM661 389h1v1h-1zM657 390h1v1h-1zM658 390h1v1h-1zM660 390h1v1h-1zM658 391h1v1h-1zM659 391h1v1h-1zM658 392h1v1h-1zM659 392h1v1h-1zM657 393h1v1h-1zM660 393h1v1h-1zM656 394h1v1h-1zM661 394h1v1h-1z"/>
<path fill="#0090ff" d="M668 431h1v1h-1zM673 431h1v1h-1zM669 432h1v1h-1zM670 432h1v1h-1zM672 432h1v1h-1zM670 433h1v1h-1zM671 433h1v1h-1zM670 434h1v1h-1zM671 434h1v1h-1zM669 435h1v1h-1zM672 435h1v1h-1zM668 436h1v1h-1zM673 436h1v1h-1z"/>
<path fill="#000000" d="M374 420h1v1h-1zM379 420h1v1h-1zM375 421h1v1h-1zM376 421h1v1h-1zM378 421h1v1h-1zM376 422h1v1h-1zM377 422h1v1h-1zM376 423h1v1h-1zM377 423h1v1h-1zM375 424h1v1h-1zM378 424h1v1h-1zM374 425h1v1h-1zM379 425h1v1h-1z"/>
<path fill="#00ffff" d="M279 215h1v1h-1zM284 215h1v1h-1zM280 216h1v1h-1zM281 216h1v1h-1zM283 216h1v1h-1zM281 217h1v1h-1zM282 217h1v1h-1zM281 218h1v1h-1zM282 218h1v1h-1zM280 219h1v1h-1zM283 219h1v1h-1zM279 220h1v1h-1zM284 220h1v1h-1z"/>
<path fill="#000000" d="M283 241h1v1h-1zM288 241h1v1h-1zM284 242h1v1h-1zM285 242h1v1h-1zM287 242h1v1h-1zM285 243h1v1h-1zM286 243h1v1h-1zM285 244h1v1h-1zM286 244h1v1h-1zM284 245h1v1h-1zM287 245h1v1h-1zM283 246h1v1h-1zM288 246h1v1h-1z"/>
<path fill="#0050ff" d="M333 245h1v1h-1zM338 245h1v1h-1zM334 246h1v1h-1zM335 246h1v1h-1zM337 246h1v1h-1zM335 247h1v1h-1zM336 247h1v1h-1zM335 248h1v1h-1zM336 248h1v1h-1zM334 249h1v1h-1zM337 249h1v1h-1zM333 250h1v1h-1zM338 250h1v1h-1z"/>
<path fill="#000000" d="M301 269h1v1h-1zM306 269h1v1h-1zM302 270h1v1h-1zM303 270h1v1h-1zM305 270h1v1h-1zM303 271h1v1h-1zM304 271h1v1h-1zM303 272h1v1h-1zM304 272h1v1h-1zM302 273h1v1h-1zM305 273h1v1h-1zM301 274h1v1h-1zM306 274h1v1h-1z"/>
<path fill="#ff0000" d="M313 274h1v1h-1zM318 274h1v1h-1zM314 275h1v1h-1zM315 275h1v1h-1zM317 275h1v1h-1zM315 276h1v1h-1zM316 276h1v1h-1zM315 277h1v1h-1zM316 277h1v1h-1zM314 278h1v1h-1zM317 278h1v1h-1zM313 279h1v1h-1zM318 279h1v1h-1z"/>
<path fill="#00ff00" d="M333 276h1v1h-1zM338 276h1v1h-1zM334 277h1v1h-1zM335 277h1v1h-1zM337 277h1v1h-1zM335 278h1v1h-1zM336 278h1v1h-1zM335 279h1v1h-1zM336 279h1v1h-1zM334 280h1v1h-1zM337 280h1v1h-1zM333 281h1v1h-1zM338 281h1v1h-1z"/>
<path fill="#00ff00" d="M376 229h1v1h-1zM381 229h1v1h-1zM377 230h1v1h-1zM378 230h1v1h-1zM380 230h1v1h-1zM378 231h1v1h-1zM379 231h1v1h-1zM378 232h1v1h-1zM379 232h1v1h-1zM377 233h1v1h-1zM380 233h1v1h-1zM376 234h1v1h-1zM381 234h1v1h-1z"/>
<path fill="#00ff00" d="M379 252h1v1h-1zM384 252h1v1h-1zM380 253h1v1h-1zM381 253h1v1h-1zM383 253h1v1h-1zM381 254h1v1h-1zM382 254h1v1h-1zM381 255h1v1h-1zM382 255h1v1h-1zM380 256h1v1h-1zM383 256h1v1h-1zM379 257h1v1h-1zM384 257h1v1h-1z"/>
<path fill="#00ff78" d="M314 311h1v1h-1zM319 311h1v1h-1zM315 312h1v1h-1zM316 312h1v1h-1zM318 312h1v1h-1zM316 313h1v1h-1zM317 313h1v1h-1zM316 314h1v1h-1zM317 314h1v1h-1zM315 315h1v1h-1zM318 315h1v1h-1zM314 316h1v1h-1zM319 316h1v1h-1z"/>
<path fill="#ff0000" d="M344 294h1v1h-1zM349 294h1v1h-1zM345 295h1v1h-1zM346 295h1v1h-1zM348 295h1v1h-1zM346 296h1v1h-1zM347 296h1v1h-1zM346 297h1v1h-1zM347 297h1v1h-1zM345 298h1v1h-1zM348 298h1v1h-1zM344 299h1v1h-1zM349 299h1v1h-1z"/>
<path fill="#a8ff00" d="M353 290h1v1h-1zM358 290h1v1h-1zM354 291h1v1h-1zM355 291h1v1h-1zM357 291h1v1h-1zM355 292h1v1h-1zM356 292h1v1h-1zM355 293h1v1h-1zM356 293h1v1h-1zM354 294h1v1h-1zM357 294h1v1h-1zM353 295h1v1h-1zM358 295h1v1h-1z"/>
<path fill="#000000" d="M340 301h1v1h-1zM345 301h1v1h-1zM341 302h1v1h-1zM342 302h1v1h-1zM344 302h1v1h-1zM342 303h1v1h-1zM343 303h1v1h-1zM342 304h1v1h-1zM343 304h1v1h-1zM341 305h1v1h-1zM344 305h1v1h-1zM340 306h1v1h-1zM345 306h1v1h-1z"/>
<path fill="#ff0000" d="M383 296h1v1h-1zM388 296h1v1h-1zM384 297h1v1h-1zM385 297h1v1h-1zM387 297h1v1h-1zM385 298h1v1h-1zM386 298h1v1h-1zM385 299h1v1h-1zM386 299h1v1h-1zM384 300h1v1h-1zM387 300h1v1h-1zM383 301h1v1h-1zM388 301h1v1h-1z"/>
<path fill="#00ffb8" d="M327 336h1v1h-1zM332 336h1v1h-1zM328 337h1v1h-1zM329 337h1v1h-1zM331 337h1v1h-1zM329 338h1v1h-1zM330 338h1v1h-1zM329 339h1v1h-1zM330 339h1v1h-1zM328 340h1v1h-1zM331 340h1v1h-1zM327 341h1v1h-1zM332 341h1v1h-1z"/>
<path fill="#000000" d="M364 331h1v1h-1zM369 331h1v1h-1zM365 332h1v1h-1zM366 332h1v1h-1zM368 332h1v1h-1zM366 333h1v1h-1zM367 333h1v1h-1zM366 334h1v1h-1zM367 334h1v1h-1zM365 335h1v1h-1zM368 335h1v1h-1zM364 336h1v1h-1zM369 336h1v1h-1z"/>
<path fill="#ff8c00" d="M388 323h1v1h-1zM393 323h1v1h-1zM389 324h1v1h-1zM390 324h1v1h-1zM392 324h1v1h-1zM390 325h1v1h-1zM391 325h1v1h-1zM390 326h1v1h-1zM391 326h1v1h-1zM389 327h1v1h-1zM392 327h1v1h-1zM388 328h1v1h-1zM393 328h1v1h-1z"/>
<path fill="#000000" d="M408 329h1v1h-1zM413 329h1v1h-1zM409 330h1v1h-1zM410 330h1v1h-1zM412 330h1v1h-1zM410 331h1v1h-1zM411 331h1v1h-1zM410 332h1v1h-1zM411 332h1v1h-1zM409 333h1v1h-1zM412 333h1v1h-1zM408 334h1v1h-1zM413 334h1v1h-1z"/>
<path fill="#00c8ff" d="M436 328h1v1h-1zM441 328h1v1h-1zM437 329h1v1h-1zM438 329h1v1h-1zM440 329h1v1h-1zM438 330h1v1h-1zM439 330h1v1h-1zM438 331h1v1h-1zM439 331h1v1h-1zM437 332h1v1h-1zM440 332h1v1h-1zM436 333h1v1h-1zM441 333h1v1h-1z"/>
<path fill="#00ff78" d="M318 366h1v1h-1zM323 366h1v1h-1zM319 367h1v1h-1zM320 367h1v1h-1zM322 367h1v1h-1zM320 368h1v1h-1zM321 368h1v1h-1zM320 369h1v1h-1zM321 369h1v1h-1zM319 370h1v1h-1zM322 370h1v1h-1zM318 371h1v1h-1zM323 371h1v1h-1z"/>
<path fill="#00ff78" d="M327 404h1v1h-1zM332 404h1v1h-1zM328 405h1v1h-1zM329 405h1v1h-1zM331 405h1v1h-1zM329 406h1v1h-1zM330 406h1v1h-1zM329 407h1v1h-1zM330 407h1v1h-1zM328 408h1v1h-1zM331 408h1v1h-1zM327 409h1v1h-1zM332 409h1v1h-1z"/>
<path fill="#00ff00" d="M383 369h1v1h-1zM388 369h1v1h-1zM384 370h1v1h-1zM385 370h1v1h-1zM387 370h1v1h-1zM385 371h1v1h-1zM386 371h1v1h-1zM385 372h1v1h-1zM386 372h1v1h-1zM384 373h1v1h-1zM387 373h1v1h-1zM383 374h1v1h-1zM388 374h1v1h-1z"/>
<path fill="#ff0000" d="M403 367h1v1h-1zM408 367h1v1h-1zM404 368h1v1h-1zM405 368h1v1h-1zM407 368h1v1h-1zM405 369h1v1h-1zM406 369h1v1h-1zM405 370h1v1h-1zM406 370h1v1h-1zM404 371h1v1h-1zM407 371h1v1h-1zM403 372h1v1h-1zM408 372h1v1h-1z"/>
<path fill="#00ff00" d="M463 386h1v1h-1zM468 386h1v1h-1zM464 387h1v1h-1zM465 387h1v1h-1zM467 387h1v1h-1zM465 388h1v1h-1zM466 388h1v1h-1zM465 389h1v1h-1zM466 389h1v1h-1zM464 390h1v1h-1zM467 390h1v1h-1zM463 391h1v1h-1zM468 391h1v1h-1z"/>
</svg>
<div id="cb"></div>
<div class="t c ttl" style="left:381px;top:29.5px">Tromsø 20120424 11:00:00−11:01:43</div>
<div class="t c ttl" style="left:379px;top:41px;letter-spacing:0.6px">RwPretec (8p) EXPERIMENTAL SKYMAP</div>
<div class="t r" style="left:78px;top:58px">200</div>
<div class="t r" style="left:78px;top:175px">100</div>
<div class="t r" style="left:78px;top:295px">0</div>
<div class="t r" style="left:78px;top:415px"><span class="m">−</span>100</div>
<div class="t r" style="left:78px;top:531px"><span class="m">−</span>200</div>
<div class="t c" style="left:80px;top:546px"><span class="m">−</span>200</div>
<div class="t c" style="left:230px;top:546px"><span class="m">−</span>100</div>
<div class="t c" style="left:380px;top:546px">0</div>
<div class="t c" style="left:530px;top:546px">100</div>
<div class="t c" style="left:680px;top:546px">200</div>
<div class="t c ax" style="left:380px;top:558px">E−W location [km]</div>
<div class="t ax" style="left:35px;top:300px;transform:translate(-50%,-50%) rotate(-90deg)">N−S location [km]</div>
<div class="t" style="left:715px;top:72px;font-size:14.5px;letter-spacing:1.9px">[m/s]</div>
<div class="t" style="left:747px;top:88px">200</div>
<div class="t" style="left:747px;top:190px">100</div>
<div class="t" style="left:747px;top:295px">0</div>
<div class="t" style="left:747px;top:400px"><span class="m">−</span>100</div>
<div class="t" style="left:747px;top:501px"><span class="m">−</span>200</div>
</body></html>
